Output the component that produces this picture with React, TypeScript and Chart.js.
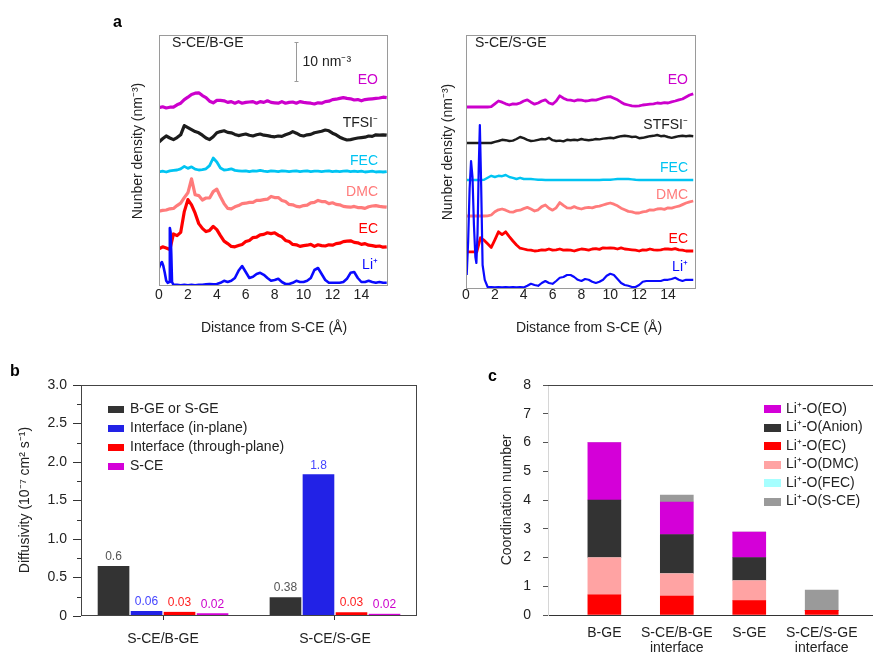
import React, { useEffect, useRef } from 'react';
import { Chart, registerables } from 'chart.js';

Chart.register(...registerables);

const FONT = "'Liberation Sans', Arial, Helvetica, sans-serif";
const STEP = 0.25;
const gridFrom = (start: number, count: number) => Array.from({ length: count }, (_, i) => start + i * STEP);

// ---------- Panel a: number density profiles (nm^-3), sampled every 0.25 Å ----------
const X_GRID = gridFrom(0, 64);
const X_TICKS = [0, 2, 4, 6, 8, 10, 12, 14];

// S-CE/B-GE
const LI_L_X = [0, 0.1, 0.2, 0.3, 0.4, 0.5, 0.6, 0.7, 0.75, 0.8, 0.85, 0.9, 1.0, ...gridFrom(1.25, 59)];
const LI_L = [4.5, 5.5, 6.0, 5.0, 3.3, 1.3, 0.8, 1.0, 14.5, 13.5, 8.0, 1.0, 0.3,
  0.3, 0.2, 0.3, 0.2, 0.3, 0.2, 0.3, 0.3,
  0.4, 0.5, 0.4, 0.5, 0.8, 1.3, 1.0, 1.3,
  2.0, 3.8, 5.0, 3.5, 2.0, 2.3, 3.0, 3.3,
  2.8, 2.0, 1.3, 1.5, 1.8, 1.0, 0.5, 0.5,
  0.8, 1.3, 1.0, 1.0, 1.3, 2.0, 4.0, 4.5,
  3.0, 1.5, 0.8, 0.8, 0.8, 0.8, 1.0, 1.8,
  3.3, 3.5, 2.0, 1.0, 1.0, 1.3, 1.0, 0.8,
  1.0, 0.8, 0.8];
const EC_L = [
  0.3, 0.8, 0.5, 0.1, 4.0, 3.6, 4.4, 9.6,
  12.6, 11.3, 9.2, 6.6, 5.4, 4.6, 4.9, 5.9,
  5.1, 3.6, 2.2, 1.6, 0.9, 0.8, 1.1, 1.4,
  2.1, 2.4, 3.1, 3.2, 3.8, 3.9, 4.3, 4.1,
  4.3, 3.7, 3.3, 2.4, 2.1, 1.4, 1.3, 0.9,
  1.1, 1.2, 1.4, 0.9, 1.3, 1.1, 1.0, 1.3,
  1.2, 1.6, 1.7, 2.1, 2.2, 2.3, 1.9, 1.8,
  1.4, 1.6, 1.2, 1.1, 0.9, 1.0, 0.7, 0.8];
const DMC_L = [
  0.7, 0.9, 1.0, 1.3, 1.4, 2.1, 2.7, 4.1,
  5.3, 8.8, 4.8, 4.6, 3.5, 4.0, 4.0, 5.6,
  6.2, 4.3, 2.6, 1.4, 1.3, 1.8, 2.1, 2.6,
  2.7, 2.9, 2.9, 3.4, 3.4, 3.6, 3.7, 4.4,
  4.1, 4.1, 3.4, 3.1, 2.4, 2.3, 1.9, 1.8,
  2.1, 2.2, 2.8, 2.9, 3.4, 3.1, 3.1, 2.6,
  2.8, 2.4, 2.3, 1.9, 1.8, 1.7, 1.9, 1.6,
  1.6, 1.4, 1.8, 2.0, 2.1, 1.9, 1.8, 1.7];
const FEC_L = [
  0.5, 0.7, 0.5, 0.8, 0.9, 1.0, 1.3, 1.9,
  1.4, 1.8, 1.2, 1.0, 1.1, 1.3, 2.1, 4.0,
  3.0, 1.5, 1.0, 1.1, 1.3, 0.9, 0.8, 0.7,
  0.8, 0.6, 0.8, 0.7, 0.9, 0.7, 0.6, 0.8,
  0.7, 0.6, 0.8, 0.7, 0.6, 0.7, 0.8, 0.6,
  0.7, 0.8, 0.6, 0.7, 0.7, 0.6, 0.7, 0.8,
  0.6, 0.7, 0.6, 0.7, 0.8, 0.6, 0.7, 0.6,
  0.7, 0.5, 0.6, 0.7, 0.5, 0.6, 0.5, 0.6];
const TFSI_L = [
  0.0, 0.8, 1.5, 1.0, 0.6, 1.1, 1.8, 4.1,
  3.6, 3.1, 2.6, 2.3, 1.7, 1.0, 0.6, 1.3,
  2.3, 2.6, 2.8, 2.4, 2.3, 1.9, 1.6, 1.8,
  2.0, 1.7, 1.5, 1.8, 2.0, 1.7, 1.6, 1.4,
  1.3, 1.5, 1.4, 1.8, 2.1, 2.6, 2.2, 1.7,
  1.5, 1.8, 1.9, 2.3, 2.5, 2.7, 3.0, 2.8,
  2.2, 1.8, 1.2, 0.8, 0.5, 0.6, 0.8, 1.0,
  1.1, 1.2, 1.5, 1.4, 1.8, 1.7, 1.8, 1.7];
const EO_L = [
  0.6, 0.8, 0.5, 0.7, 0.7, 1.3, 1.7, 2.6,
  3.2, 3.9, 4.2, 4.3, 3.6, 3.1, 2.2, 1.8,
  2.4, 2.4, 2.3, 1.9, 2.1, 1.7, 2.1, 1.7,
  1.9, 2.0, 2.1, 1.7, 2.1, 1.9, 2.3, 1.9,
  1.8, 1.7, 2.1, 1.7, 1.9, 2.0, 1.7, 2.1,
  1.9, 1.8, 1.7, 1.5, 1.8, 1.7, 2.1, 2.2,
  2.6, 2.7, 2.9, 3.1, 2.9, 2.8, 2.5, 2.6,
  2.3, 2.6, 2.7, 2.8, 2.9, 3.0, 3.2, 3.1];

// S-CE/S-GE
const LI_R_X = [0.05, 0.15, 0.25, 0.35, 0.45, 0.55, 0.65, 0.72, 0.8, 0.88, 0.96, 1.05, 1.15, 1.3, 1.5, ...gridFrom(1.75, 57)];
const LI_R = [3.5, 12, 25, 32, 28, 16, 8, 6.5, 14, 30, 41, 26, 6, 2.3, 0.5,
  0.5, 0.4, 0.5, 0.4, 0.5, 0.4, 0.5, 0.4, 0.5, 0.4,
  0.8, 1.3, 1.0, 0.8, 1.5, 2.0, 1.5, 1.3,
  2.0, 2.8, 3.0, 3.5, 3.5, 3.0, 2.3, 2.0,
  2.5, 2.3, 1.8, 1.5, 1.8, 2.3, 3.3, 3.8,
  3.5, 2.5, 1.5, 1.0, 0.8, 0.5, 0.5, 1.0,
  1.8, 2.0, 2.0, 2.0, 2.0, 2.0, 2.3, 2.3,
  2.5, 2.8, 2.3, 2.0, 2.3, 2.3, 2.3];
const EC_R = [
  0.3, 0.3, 0.3, 0.3, 3.8, 3.2, 2.3, 1.4,
  3.3, 5.3, 4.6, 5.3, 4.1, 3.0, 2.0, 1.2,
  1.0, 0.8, 0.7, 0.5, 0.6, 0.8, 0.7, 1.0,
  0.7, 0.8, 1.0, 0.7, 0.8, 0.7, 0.5, 0.8,
  1.0, 0.9, 0.7, 1.0, 1.1, 0.9, 1.3, 1.2,
  1.3, 1.2, 1.0, 1.3, 1.0, 0.9, 0.8, 0.7,
  0.5, 0.8, 0.7, 1.0, 0.8, 0.7, 0.8, 1.0,
  1.0, 0.9, 1.1, 0.8, 0.7, 0.5, 0.5, 0.5];
const DMC_R = [
  1.25, 1.25, 1.25, 1.25, 1.25, 1.25, 1.3, 1.5,
  2.3, 2.8, 3.0, 2.7, 2.3, 2.2, 2.6, 2.7,
  3.1, 3.4, 3.0, 2.5, 2.8, 3.6, 4.0, 3.2,
  2.7, 3.3, 4.6, 3.9, 3.3, 3.2, 3.6, 3.2,
  3.0, 3.3, 3.4, 3.3, 3.6, 3.7, 4.0, 4.3,
  4.5, 4.2, 3.8, 3.2, 2.8, 2.4, 2.3, 2.0,
  2.0, 2.3, 2.4, 2.8, 2.7, 3.0, 3.1, 2.9,
  3.3, 3.2, 3.5, 3.7, 4.1, 4.5, 4.8, 5.0];
const FEC_R = [
  0.25, 0.25, 0.25, 0.25, 0.25, 0.3, 0.8, 1.3,
  1.0, 1.3, 1.2, 1.5, 1.0, 0.8, 0.5, 0.8,
  0.5, 0.5, 0.5, 0.4, 0.3, 0.3, 0.25, 0.25,
  0.25, 0.25, 0.25, 0.25, 0.25, 0.25, 0.25, 0.25,
  0.25, 0.25, 0.25, 0.25, 0.25, 0.25, 0.3, 0.3,
  0.3, 0.4, 0.5, 0.5, 0.5, 0.5, 0.4, 0.3,
  0.25, 0.25, 0.25, 0.25, 0.25, 0.25, 0.25, 0.25,
  0.25, 0.25, 0.25, 0.25, 0.25, 0.25, 0.25, 0.25];
const STFSI_R = [
  0.5, 0.5, 0.5, 0.5, 0.5, 0.5, 0.5, 0.5,
  0.8, 1.0, 1.3, 1.2, 1.0, 1.1, 1.5, 2.0,
  1.7, 1.3, 1.0, 1.1, 1.3, 1.5, 1.4, 1.8,
  1.2, 1.0, 1.1, 0.9, 1.3, 1.2, 1.3, 1.2,
  1.5, 1.3, 1.2, 1.3, 1.5, 1.4, 1.6, 1.7,
  1.8, 1.7, 2.0, 2.2, 2.3, 2.2, 2.0, 2.1,
  1.7, 1.8, 2.0, 2.2, 2.3, 2.5, 2.2, 2.3,
  2.0, 1.8, 2.0, 2.2, 2.3, 2.2, 2.3, 2.2];
const EO_R = [
  1.5, 1.5, 1.5, 1.5, 1.5, 1.5, 1.5, 1.6,
  2.3, 3.0, 2.7, 2.3, 2.0, 2.3, 2.2, 2.5,
  3.0, 3.3, 2.7, 2.2, 2.5, 3.0, 3.3, 2.5,
  2.2, 3.0, 4.3, 3.7, 3.3, 3.2, 3.0, 3.3,
  3.2, 3.0, 3.1, 3.3, 3.2, 3.5, 3.8, 4.0,
  4.1, 3.7, 3.3, 2.7, 2.2, 2.0, 1.8, 1.7,
  1.8, 2.0, 2.1, 2.2, 2.3, 2.5, 2.4, 2.6,
  2.5, 2.8, 3.0, 3.3, 3.5, 4.0, 4.5, 4.8];

// vertical offsets of the stacked profiles (nm^-3)
const OFFSETS_L = [0, 9, 18, 28, 36, 44];
const OFFSETS_R = [0, 9, 17, 27, 36, 44];

// ---------- Panel b: diffusivity (10^-7 cm^2 s^-1) ----------
const B_GROUPS = ['S-CE/B-GE', 'S-CE/S-GE'];
const B_SERIES = ['B-GE or S-GE', 'Interface (in-plane)', 'Interface (through-plane)', 'S-CE'];
const B_BULK = [0.65, 0.245];
const B_INPLANE = [0.065, 1.84];
const B_THROUGH = [0.055, 0.05];
const B_SCE = [0.035, 0.03];
const B_LABELS = [['0.6', '0.38'], ['0.06', '1.8'], ['0.03', '0.03'], ['0.02', '0.02']];
const B_MINOR_TICKS = [0.25, 0.75, 1.25, 1.75, 2.25, 2.75];

// ---------- Panel c: coordination number ----------
const C_CATS = [['B-GE'], ['S-CE/B-GE', 'interface'], ['S-GE'], ['S-CE/S-GE', 'interface']];
const C_EC = [0.7, 0.66, 0.5, 0.16];
const C_DMC = [1.3, 0.78, 0.7, 0];
const C_FEC = [0, 0, 0, 0];
const C_ANION = [2.0, 1.36, 0.8, 0];
const C_EO = [2.0, 1.13, 0.88, 0];
const C_SCE = [0, 0.24, 0, 0.71];

// colours
const BLUE = '#0a0aff';
const RED = '#ff0000';
const SALMON = '#ff7b7b';
const CYAN = '#00c4f2';
const BLACK = '#1c1c1c';
const MAGENTA = '#cc00cc';
const TXT = '#222222';

type TextItem = { text: string; x: number; y: number; color?: string; size?: number; bold?: boolean; align?: CanvasTextAlign; rotate?: boolean };

function textPlugin(items: TextItem[]) {
  return {
    id: 'texts',
    afterDraw(chart: any) {
      const ctx = chart.ctx;
      items.forEach((it) => {
        ctx.save();
        ctx.fillStyle = it.color || TXT;
        ctx.font = `${it.bold ? 'bold ' : ''}${it.size || 14}px ${FONT}`;
        ctx.textAlign = it.align || 'left';
        ctx.textBaseline = 'middle';
        ctx.translate(it.x, it.y);
        if (it.rotate) ctx.rotate(-Math.PI / 2);
        ctx.fillText(it.text, 0, 0);
        ctx.restore();
      });
    },
  };
}

function framePlugin(sides: { top?: string; right?: string; bottom?: string; left?: string }) {
  return {
    id: 'frame',
    afterDraw(chart: any) {
      const { left, right, top, bottom } = chart.chartArea;
      const ctx = chart.ctx;
      const seg = (color: string | undefined, x1: number, y1: number, x2: number, y2: number) => {
        if (!color) return;
        ctx.save();
        ctx.strokeStyle = color;
        ctx.lineWidth = 1;
        ctx.beginPath();
        ctx.moveTo(x1, y1);
        ctx.lineTo(x2, y2);
        ctx.stroke();
        ctx.restore();
      };
      const l = Math.round(left) + 0.5, r = Math.round(right) - 0.5, t = Math.round(top) + 0.5, b = Math.round(bottom) - 0.5;
      seg(sides.top, l - 0.5, t, r + 0.5, t);
      seg(sides.bottom, l - 0.5, b, r + 0.5, b);
      seg(sides.left, l, t, l, b);
      seg(sides.right, r, t, r, b);
    },
  };
}

function boxLegendPlugin(items: { label: string; color: string }[], x: number, y0: number, dy: number, w: number, h: number, textX: number) {
  return {
    id: 'boxLegend',
    afterDraw(chart: any) {
      const ctx = chart.ctx;
      items.forEach((it, i) => {
        const cy = y0 + i * dy;
        ctx.save();
        ctx.fillStyle = it.color;
        ctx.fillRect(x, Math.round(cy - h / 2), w, h);
        ctx.fillStyle = TXT;
        ctx.font = `14px ${FONT}`;
        ctx.textAlign = 'left';
        ctx.textBaseline = 'middle';
        ctx.fillText(it.label, textX, cy);
        ctx.restore();
      });
    },
  };
}

type Series = { x: number[]; y: number[]; color: string; width: number };

type DensitySpec = {
  series: Series[];
  offsets: number[];
  padRight: number;
  yAxisW: number;
  xAxisH: number;
  tickPad: number;
  xMax: number;
  yMax: number;
  texts: TextItem[];
  extra?: any[];
};

function densityConfig(p: DensitySpec): any {
  const datasets = p.series.map((s, k) => ({
    data: s.x.map((x, i) => ({ x, y: s.y[i] + p.offsets[k] })).filter((d) => Number.isFinite(d.y)),
    borderColor: s.color,
    borderWidth: s.width,
    borderJoinStyle: 'round',
    pointRadius: 0,
    tension: 0,
    fill: false,
  }));
  return {
    type: 'line',
    data: { datasets },
    options: {
      animation: false,
      responsive: false,
      devicePixelRatio: 1,
      layout: { padding: { left: 0, right: p.padRight, top: 35, bottom: 0 } },
      plugins: { legend: { display: false }, tooltip: { enabled: false } },
      scales: {
        x: {
          type: 'linear',
          min: 0,
          max: p.xMax,
          offset: false,
          grid: { display: false, drawTicks: false },
          border: { display: false },
          ticks: { font: { family: FONT, size: 14 }, color: TXT, padding: p.tickPad, maxRotation: 0, autoSkip: false },
          afterBuildTicks: (s: any) => { s.ticks = X_TICKS.map((v) => ({ value: v })); },
          afterFit: (s: any) => { s.height = p.xAxisH; },
        },
        y: {
          type: 'linear',
          min: 0,
          max: p.yMax,
          grid: { display: false, drawTicks: false },
          border: { display: false },
          ticks: { display: false },
          afterFit: (s: any) => { s.width = p.yAxisW; },
        },
      },
    },
    plugins: [framePlugin({ top: '#9a9a9a', right: '#9a9a9a', bottom: '#9a9a9a', left: '#9a9a9a' }), textPlugin(p.texts), ...(p.extra || [])],
  };
}

// scale bar drawn through the y scale of the left profile panel
const SCALE_BAR_X = 9.45;
const SCALE_BAR_TOP = 61;
const SCALE_BAR_LEN = 10;
const scaleBarPlugin = {
  id: 'scaleBar',
  afterDraw(chart: any) {
    const ctx = chart.ctx;
    const x = Math.round(chart.scales.x.getPixelForValue(SCALE_BAR_X)) + 0.5;
    const y1 = chart.scales.y.getPixelForValue(SCALE_BAR_TOP);
    const y2 = chart.scales.y.getPixelForValue(SCALE_BAR_TOP - SCALE_BAR_LEN);
    ctx.save();
    ctx.strokeStyle = '#9a9a9a';
    ctx.lineWidth = 1;
    ctx.beginPath();
    ctx.moveTo(x, y1); ctx.lineTo(x, y2);
    ctx.moveTo(x - 2, y1 + 0.5); ctx.lineTo(x + 2, y1 + 0.5);
    ctx.moveTo(x - 2, y2 - 0.5); ctx.lineTo(x + 2, y2 - 0.5);
    ctx.stroke();
    ctx.fillStyle = TXT;
    ctx.font = `14px ${FONT}`;
    ctx.textBaseline = 'middle';
    ctx.fillText('10 nm⁻³', x + 6, (y1 + y2) / 2);
    ctx.restore();
  },
};

function leftConfig() {
  return densityConfig({
    series: [
      { x: LI_L_X, y: LI_L, color: BLUE, width: 2.6 },
      { x: X_GRID, y: EC_L, color: RED, width: 3.2 },
      { x: X_GRID, y: DMC_L, color: SALMON, width: 3.2 },
      { x: X_GRID, y: FEC_L, color: CYAN, width: 2.8 },
      { x: X_GRID, y: TFSI_L, color: BLACK, width: 3.2 },
      { x: X_GRID, y: EO_L, color: MAGENTA, width: 3.2 },
    ],
    offsets: OFFSETS_L,
    padRight: 22,
    yAxisW: 49,
    xAxisH: 59,
    tickPad: 1,
    xMax: 15.84,
    yMax: 62.75,
    texts: [
      { text: 'a', x: 3, y: 23, bold: true, size: 16, color: '#000' },
      { text: 'S-CE/B-GE', x: 62, y: 43 },
      { text: 'Nunber density (nm⁻³)', x: 28, y: 151, rotate: true, align: 'center' },
      { text: 'Distance from S-CE (Å)', x: 164, y: 328, align: 'center' },
      { text: 'EO', x: 268, y: 80, color: MAGENTA, align: 'right' },
      { text: 'TFSI⁻', x: 268, y: 123, color: BLACK, align: 'right' },
      { text: 'FEC', x: 268, y: 161, color: CYAN, align: 'right' },
      { text: 'DMC', x: 268, y: 192, color: SALMON, align: 'right' },
      { text: 'EC', x: 268, y: 229, color: RED, align: 'right' },
      { text: 'Li⁺', x: 268, y: 265, color: BLUE, align: 'right' },
    ],
    extra: [scaleBarPlugin],
  });
}

function rightConfig() {
  return densityConfig({
    series: [
      { x: LI_R_X, y: LI_R, color: BLUE, width: 2.2 },
      { x: X_GRID, y: EC_R, color: RED, width: 2.8 },
      { x: X_GRID, y: DMC_R, color: SALMON, width: 2.8 },
      { x: X_GRID, y: FEC_R, color: CYAN, width: 2.4 },
      { x: X_GRID, y: STFSI_R, color: BLACK, width: 2.4 },
      { x: X_GRID, y: EO_R, color: MAGENTA, width: 2.8 },
    ],
    offsets: OFFSETS_R,
    padRight: 14,
    yAxisW: 46,
    xAxisH: 56,
    tickPad: -2,
    xMax: 15.94,
    yMax: 63.5,
    texts: [
      { text: 'S-CE/S-GE', x: 55, y: 43 },
      { text: 'Nunber density (nm⁻³)', x: 28, y: 152, rotate: true, align: 'center' },
      { text: 'Distance from S-CE (Å)', x: 169, y: 328, align: 'center' },
      { text: 'EO', x: 268, y: 80, color: MAGENTA, align: 'right' },
      { text: 'STFSI⁻', x: 268, y: 125, color: BLACK, align: 'right' },
      { text: 'FEC', x: 268, y: 168, color: CYAN, align: 'right' },
      { text: 'DMC', x: 268, y: 195, color: SALMON, align: 'right' },
      { text: 'EC', x: 268, y: 239, color: RED, align: 'right' },
      { text: 'Li⁺', x: 268, y: 267, color: BLUE, align: 'right' },
    ],
  });
}

// ---------- panel b config ----------
const B_COLORS = ['#333333', '#2222e6', '#ff0000', '#d400d8'];
const B_LABEL_COLORS = ['#555555', '#4444ff', '#ff2020', '#cc00cc'];

const minorTicksPlugin = {
  id: 'minorTicks',
  afterDraw(chart: any) {
    const ys = chart.scales.y;
    const ctx = chart.ctx;
    const x = Math.round(chart.chartArea.left);
    ctx.save();
    ctx.strokeStyle = '#333';
    ctx.lineWidth = 1;
    ctx.beginPath();
    B_MINOR_TICKS.forEach((v) => {
      const y = Math.round(ys.getPixelForValue(v)) + 0.5;
      ctx.moveTo(x - 4, y);
      ctx.lineTo(x, y);
    });
    ctx.stroke();
    ctx.restore();
  },
};

function diffusivityConfig(): any {
  const values = [B_BULK, B_INPLANE, B_THROUGH, B_SCE];
  const valueLabels = {
    id: 'valueLabels',
    afterDatasetsDraw(chart: any) {
      const ctx = chart.ctx;
      values.forEach((_, i) => {
        const meta = chart.getDatasetMeta(i);
        meta.data.forEach((bar: any, j: number) => {
          ctx.save();
          ctx.fillStyle = B_LABEL_COLORS[i];
          ctx.font = `12px ${FONT}`;
          ctx.textAlign = 'center';
          ctx.textBaseline = 'bottom';
          ctx.fillText(B_LABELS[i][j], bar.x, bar.y - 3);
          ctx.restore();
        });
      });
    },
  };
  return {
    type: 'bar',
    data: {
      datasets: values.map((v, i) => ({
        label: B_SERIES[i],
        data: v.map((y, j) => ({ x: j + 1, y })),
        backgroundColor: B_COLORS[i],
        borderColor: '#ffffff',
        borderWidth: { left: 1, right: 1, top: 0, bottom: 0 },
        barThickness: 33,
      })),
    },
    options: {
      animation: false,
      responsive: false,
      devicePixelRatio: 1,
      layout: { padding: { left: 0, right: 23, top: 25, bottom: 0 } },
      plugins: { legend: { display: false }, tooltip: { enabled: false } },
      scales: {
        x: {
          type: 'linear',
          min: 0.523,
          max: 2.477,
          offset: false,
          grid: { display: true, offset: false, drawOnChartArea: false, drawTicks: true, tickLength: 4, tickColor: '#333' },
          border: { display: false },
          ticks: {
            font: { family: FONT, size: 14 }, color: TXT, padding: 11, maxRotation: 0, autoSkip: false,
            callback: (v: number) => B_GROUPS[Math.round(v) - 1] ?? '',
          },
          afterBuildTicks: (s: any) => { s.ticks = B_GROUPS.map((_, i) => ({ value: i + 1 })); },
          afterFit: (s: any) => { s.height = 38; },
        },
        y: {
          type: 'linear',
          min: 0,
          max: 3,
          grid: { display: true, drawOnChartArea: false, drawTicks: true, tickLength: 8, tickColor: '#333' },
          border: { display: false },
          ticks: {
            stepSize: 0.5, autoSkip: false, font: { family: FONT, size: 14 }, color: TXT, padding: 6,
            callback: (v: number) => (Math.abs(v) < 1e-9 ? '0' : v.toFixed(1)),
          },
          afterFit: (s: any) => { s.width = 81; },
        },
      },
    },
    plugins: [
      framePlugin({ top: '#444', right: '#444', bottom: '#444', left: '#444' }),
      minorTicksPlugin,
      valueLabels,
      boxLegendPlugin(B_SERIES.map((label, i) => ({ label, color: B_COLORS[i] })), 108, 49, 19, 16, 7, 130),
      textPlugin([
        { text: 'b', x: 10, y: 12, bold: true, size: 16, color: '#000' },
        { text: 'Diffusivity (10⁻⁷ cm² s⁻¹)', x: 25, y: 140, rotate: true, align: 'center' },
      ]),
    ],
  };
}

// ---------- panel c config ----------
const C_STACK = [
  { label: 'Li⁺-O(EC)', values: C_EC, color: '#ff0000' },
  { label: 'Li⁺-O(DMC)', values: C_DMC, color: '#ffa3a3' },
  { label: 'Li⁺-O(FEC)', values: C_FEC, color: '#a6ffff' },
  { label: 'Li⁺-O(Anion)', values: C_ANION, color: '#333333' },
  { label: 'Li⁺-O(EO)', values: C_EO, color: '#d400d8' },
  { label: 'Li⁺-O(S-CE)', values: C_SCE, color: '#9a9a9a' },
];
const C_LEGEND_ORDER = [4, 3, 0, 1, 2, 5];

function coordinationConfig(): any {
  return {
    type: 'bar',
    data: {
      datasets: C_STACK.map((s) => ({
        label: s.label,
        data: s.values.map((y, j) => ({ x: j + 1, y })),
        backgroundColor: s.color,
        borderWidth: 0,
        barThickness: 33,
      })),
    },
    options: {
      animation: false,
      responsive: false,
      devicePixelRatio: 1,
      layout: { padding: { left: 0, right: 0, top: 25, bottom: 0 } },
      plugins: { legend: { display: false }, tooltip: { enabled: false } },
      scales: {
        x: {
          type: 'linear',
          stacked: true,
          min: 0.222,
          max: 4.708,
          offset: false,
          grid: { display: false, offset: false, drawTicks: false },
          border: { display: true, color: '#333' },
          ticks: {
            font: { family: FONT, size: 14, lineHeight: 1.1 }, color: TXT, padding: 10, maxRotation: 0, autoSkip: false,
            callback: (v: number) => C_CATS[Math.round(v) - 1] ?? '',
          },
          afterBuildTicks: (s: any) => { s.ticks = C_CATS.map((_, i) => ({ value: i + 1 })); },
          afterFit: (s: any) => { s.height = 39; },
        },
        y: {
          type: 'linear',
          stacked: true,
          min: 0,
          max: 8,
          grid: { display: true, drawOnChartArea: false, drawTicks: true, tickLength: 5, tickColor: '#555' },
          border: { display: true, color: '#d6d6d6' },
          ticks: { stepSize: 1, font: { family: FONT, size: 14 }, color: TXT, padding: 12 },
          afterFit: (s: any) => { s.width = 98; },
        },
      },
    },
    plugins: [
      framePlugin({ top: '#444' }),
      boxLegendPlugin(C_LEGEND_ORDER.map((k) => ({ label: C_STACK[k].label, color: C_STACK[k].color })), 314, 49, 18.5, 17, 8, 336),
      textPlugin([
        { text: 'c', x: 38, y: 17, bold: true, size: 16, color: '#000' },
        { text: 'Coordination number', x: 57, y: 140, rotate: true, align: 'center' },
      ]),
    ],
  };
}

function ChartBox({ left, top, width, height, build }: { left: number; top: number; width: number; height: number; build: () => any }) {
  const ref = useRef<HTMLCanvasElement>(null);
  useEffect(() => {
    if (!ref.current) return;
    const chart = new Chart(ref.current, build());
    return () => chart.destroy();
  }, []);
  return (
    <canvas
      ref={ref}
      width={width}
      height={height}
      style={{ position: 'absolute', left, top, width, height, display: 'block' }}
    />
  );
}

export default function App() {
  return (
    <div style={{ position: 'absolute', left: 0, top: 0, width: 873, height: 654, background: '#fff', overflow: 'hidden' }}>
      <ChartBox left={110} top={0} width={300} height={345} build={leftConfig} />
      <ChartBox left={420} top={0} width={290} height={345} build={rightConfig} />
      <ChartBox left={0} top={360} width={440} height={294} build={diffusivityConfig} />
      <ChartBox left={450} top={360} width={423} height={294} build={coordinationConfig} />
    </div>
  );
}
